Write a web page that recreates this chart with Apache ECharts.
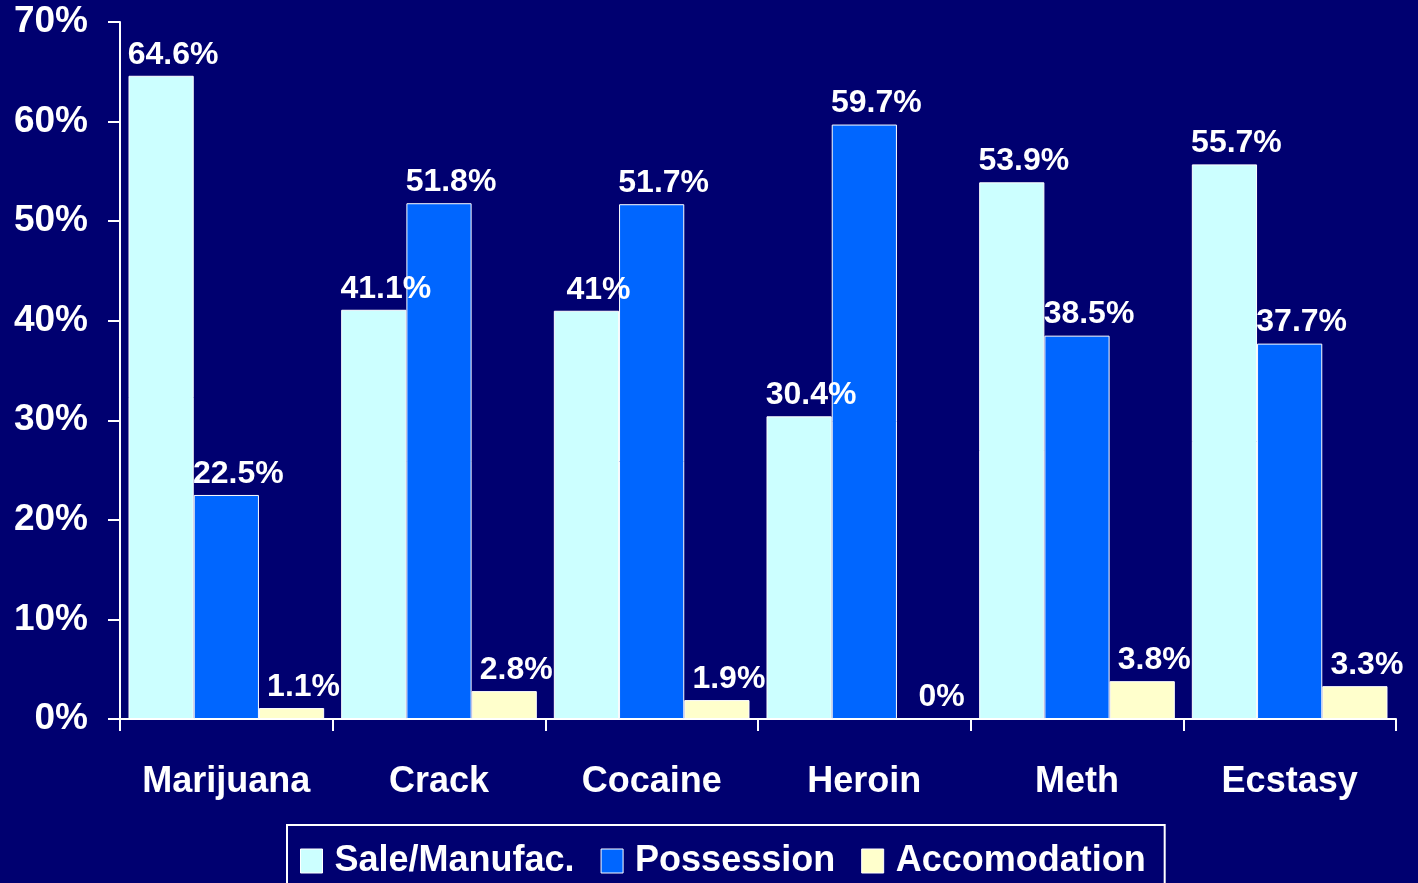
<!DOCTYPE html>
<html>
<head>
<meta charset="utf-8">
<script src="https://cdn.jsdelivr.net/npm/echarts@6/dist/echarts.min.js"></script>
<style>
html,body{margin:0;padding:0;background:#000070;}
#c{width:1418px;height:883px;}
</style>
</head>
<body>
<div id="c"></div>
<script>
var categories = ['Marijuana', 'Crack', 'Cocaine', 'Heroin', 'Meth', 'Ecstasy'];
var seriesNames = ['Sale/Manufac.', 'Possession', 'Accomodation'];
var saleValues = [64.6, 41.1, 41, 30.4, 53.9, 55.7];
var possessionValues = [22.5, 51.8, 51.7, 59.7, 38.5, 37.7];
var accomodationValues = [1.1, 2.8, 1.9, 0, 3.8, 3.3];
var yTicks = [0, 10, 20, 30, 40, 50, 60, 70];

var FONT = "'Liberation Sans', Arial, sans-serif";
var colors = ['#ccffff', '#0066ff', '#ffffcc'];

function mkSeries(name, data, color) {
  return {
    name: name,
    type: 'bar',
    data: data,
    barGap: '0%',
    barCategoryGap: '8%',
    itemStyle: { color: color, borderColor: '#ffffff', borderWidth: 1 },
    label: {
      show: true,
      position: 'top',
      distance: 5,
      offset: [12, 0],
      formatter: '{c}%',
      color: '#ffffff',
      fontFamily: FONT,
      fontWeight: 'bold',
      fontSize: 32
    }
  };
}

var chart = echarts.init(document.getElementById('c'));
chart.setOption({
  backgroundColor: '#000070',
  animation: false,
  grid: { left: 120, right: 22, top: 22, bottom: 164 },
  legend: {
    data: seriesNames,
    left: 287,
    top: 825,
    orient: 'horizontal',
    borderColor: '#ffffff',
    borderWidth: 2,
    padding: [18, 19, 14, 13],
    itemWidth: 22,
    itemHeight: 24,
    itemGap: 26,
    icon: 'rect',
    itemStyle: { borderColor: '#ffffff', borderWidth: 1 },
    textStyle: { color: '#ffffff', fontFamily: FONT, fontWeight: 'bold', fontSize: 36, padding: [0, 0, 0, 7] }
  },
  xAxis: {
    type: 'category',
    data: categories,
    axisLine: { lineStyle: { color: '#ffffff', width: 2 } },
    axisTick: { show: true, length: 12, lineStyle: { color: '#ffffff', width: 2 } },
    axisLabel: { interval: 0, color: '#ffffff', fontFamily: FONT, fontWeight: 'bold', fontSize: 36, margin: 45 }
  },
  yAxis: {
    type: 'value',
    min: yTicks[0],
    max: yTicks[yTicks.length - 1],
    interval: 10,
    splitLine: { show: false },
    axisLine: { show: true, lineStyle: { color: '#ffffff', width: 2 } },
    axisTick: { show: true, length: 12, lineStyle: { color: '#ffffff', width: 2 } },
    axisLabel: { color: '#ffffff', fontFamily: FONT, fontWeight: 'bold', fontSize: 37, margin: 32, formatter: '{value}%' }
  },
  series: [
    mkSeries(seriesNames[0], saleValues, colors[0]),
    mkSeries(seriesNames[1], possessionValues, colors[1]),
    mkSeries(seriesNames[2], accomodationValues, colors[2])
  ]
});
</script>
</body>
</html>
